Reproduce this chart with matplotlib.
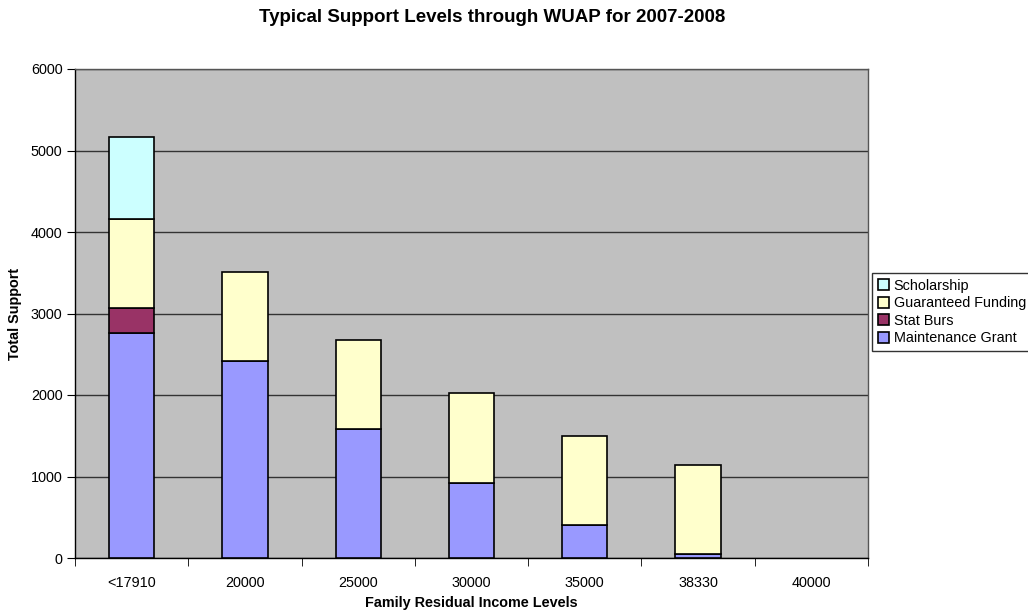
import matplotlib
matplotlib.use("Agg")
import matplotlib.pyplot as plt
import numpy as np

categories = ["<17910", "20000", "25000", "30000", "35000", "38330", "40000"]
maintenance_grant = [2765, 2415, 1580, 920, 400, 50, 0]
stat_burs = [300, 0, 0, 0, 0, 0, 0]
guaranteed_funding = [1095, 1098, 1098, 1103, 1097, 1093, 0]
scholarship = [1005, 0, 0, 0, 0, 0, 0]

plt.rcParams['font.family'] = ['Liberation Sans', 'DejaVu Sans']

W, H = 1028, 611
fig = plt.figure(figsize=(W / 100, H / 100), dpi=100)
ax = fig.add_axes([75 / W, 1 - 558 / H, (868 - 75) / W, (558 - 69) / H])
ax.set_facecolor("#C0C0C0")

x = np.arange(len(categories))
bw = 0.4
series = [
    ("Maintenance Grant", maintenance_grant, "#9999FF"),
    ("Stat Burs", stat_burs, "#993366"),
    ("Guaranteed Funding", guaranteed_funding, "#FFFFCC"),
    ("Scholarship", scholarship, "#CCFFFF"),
]
bottom = np.zeros(len(categories))
handles = []
for name, vals, col in series:
    v = np.array(vals, dtype=float)
    nz = v > 0
    b = ax.bar(x[nz], v[nz], bw, bottom=bottom[nz], color=col, edgecolor="black",
               linewidth=1.2, label=name, zorder=3)
    handles.append(b)
    bottom += v

ax.set_xlim(-0.5, len(categories) - 0.5)
ax.set_ylim(0, 6000)
ax.set_yticks(np.arange(0, 6001, 1000))
ax.yaxis.grid(True, color="#333333", linewidth=1.0, zorder=1)
ax.set_axisbelow(True)

ax.set_xticks(x)
ax.set_xticklabels(categories, fontsize=10.4)
ax.set_xticks(np.arange(-0.5, len(categories), 1), minor=True)
ax.tick_params(axis='x', which='major', length=0, pad=13)
ax.tick_params(axis='x', which='minor', length=6, direction='out', color='black')
ax.tick_params(axis='y', length=6, pad=3, direction='out', labelsize=10.4, color='black')

for s in ['left', 'bottom']:
    ax.spines[s].set_color('black')
    ax.spines[s].set_linewidth(1.0)
for s in ['top', 'right']:
    ax.spines[s].set_color('#555555')
    ax.spines[s].set_linewidth(1.0)

fig.text(492 / W, 1 - 18 / H, "Typical Support Levels through WUAP for 2007-2008",
         ha='center', va='center', fontsize=13.5, fontweight='bold')
fig.text(471 / W, 1 - 603 / H, "Family Residual Income Levels",
         ha='center', va='center', fontsize=10.4, fontweight='bold')
fig.text(15 / W, 1 - 314 / H, "Total Support", rotation=90,
         ha='center', va='center', fontsize=10.4, fontweight='bold')

leg = fig.legend(handles[::-1], [s[0] for s in series][::-1],
                 loc='center left', bbox_to_anchor=(872 / W, 1 - 312 / H),
                 fontsize=10.4, frameon=True, fancybox=False, edgecolor='black',
                 handlelength=0.8, handleheight=0.8, handletextpad=0.3,
                 borderpad=0.4, labelspacing=0.25, borderaxespad=0)
leg.get_frame().set_linewidth(1.0)

fig.savefig("out.png", dpi=100, facecolor='white')
